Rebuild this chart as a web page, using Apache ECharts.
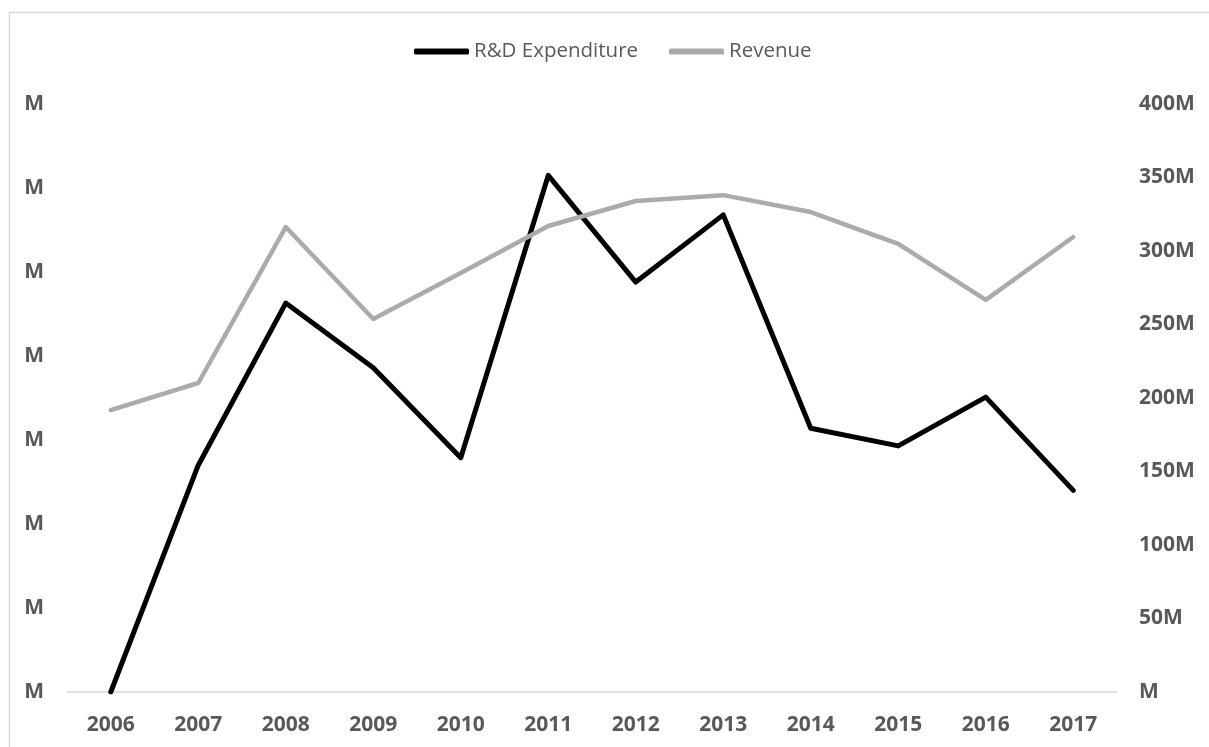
<!DOCTYPE html>
<html>
<head>
<meta charset="utf-8">
<script src="https://cdn.jsdelivr.net/npm/echarts@6/dist/echarts.min.js"></script>
<style>
html,body{margin:0;padding:0;background:#fff;}
#chart{width:1209px;height:747px;}
</style>
</head>
<body>
<div id="chart"></div>
<script>
const years = ['2006','2007','2008','2009','2010','2011','2012','2013','2014','2015','2016','2017'];
const rdExpenditure = [0, 27000, 46300, 38600, 27900, 61500, 48800, 56800, 31400, 29300, 35100, 24000];
const revenue = [191800000, 210200000, 316300000, 253700000, 285000000, 317000000, 334000000, 338000000, 326500000, 304800000, 266700000, 309500000];
const leftAxis = {min: 0, max: 70000, interval: 10000};
const rightAxis = {min: 0, max: 400000000, interval: 50000000};

function fmtM(v) {
  const m = Math.round(v / 1e6);
  return (m >= 1 ? m : '') + 'M';
}

const labelStyle = {color: '#595959', fontFamily: 'Open Sans', fontWeight: 'bold', fontSize: 21};
const chart = echarts.init(document.getElementById('chart'), null, {renderer: 'canvas'});
chart.setOption({
  animation: false,
  backgroundColor: '#fff',
  graphic: [{
    type: 'rect', left: 7, top: 10, silent: true,
    shape: {width: 1230, height: 760},
    style: {fill: 'none', stroke: '#D9D9D9', lineWidth: 1.5}
  }],
  legend: {
    top: 36, left: 409,
    itemWidth: 55, itemHeight: 6, itemGap: 31,
    icon: 'roundRect',
    textStyle: {color: '#595959', fontFamily: 'Open Sans', fontSize: 20.5},
    data: ['R&D Expenditure', 'Revenue']
  },
  grid: {left: 67, right: 92, top: 104, bottom: 55, containLabel: false},
  xAxis: {
    type: 'category', data: years, boundaryGap: true,
    axisLine: {lineStyle: {color: '#D9D9D9', width: 1.5}},
    axisTick: {show: false},
    axisLabel: Object.assign({margin: 23}, labelStyle)
  },
  yAxis: [{
    type: 'value', position: 'left',
    min: leftAxis.min, max: leftAxis.max, interval: leftAxis.interval,
    axisLine: {show: false}, axisTick: {show: false}, splitLine: {show: false},
    axisLabel: Object.assign({margin: 23, formatter: fmtM}, labelStyle)
  }, {
    type: 'value', position: 'right',
    min: rightAxis.min, max: rightAxis.max, interval: rightAxis.interval,
    axisLine: {show: false}, axisTick: {show: false}, splitLine: {show: false},
    axisLabel: Object.assign({margin: 22, formatter: fmtM}, labelStyle)
  }],
  series: [{
    name: 'R&D Expenditure', type: 'line', yAxisIndex: 0,
    data: rdExpenditure, showSymbol: false, symbol: 'none',
    itemStyle: {color: '#000000'},
    lineStyle: {color: '#000000', width: 5, cap: 'round', join: 'round'}
  }, {
    name: 'Revenue', type: 'line', yAxisIndex: 1,
    data: revenue, showSymbol: false, symbol: 'none',
    itemStyle: {color: '#AEAAAA'},
    lineStyle: {color: '#AEAAAA', width: 4.5, cap: 'round', join: 'round'}
  }]
});
</script>
</body>
</html>
